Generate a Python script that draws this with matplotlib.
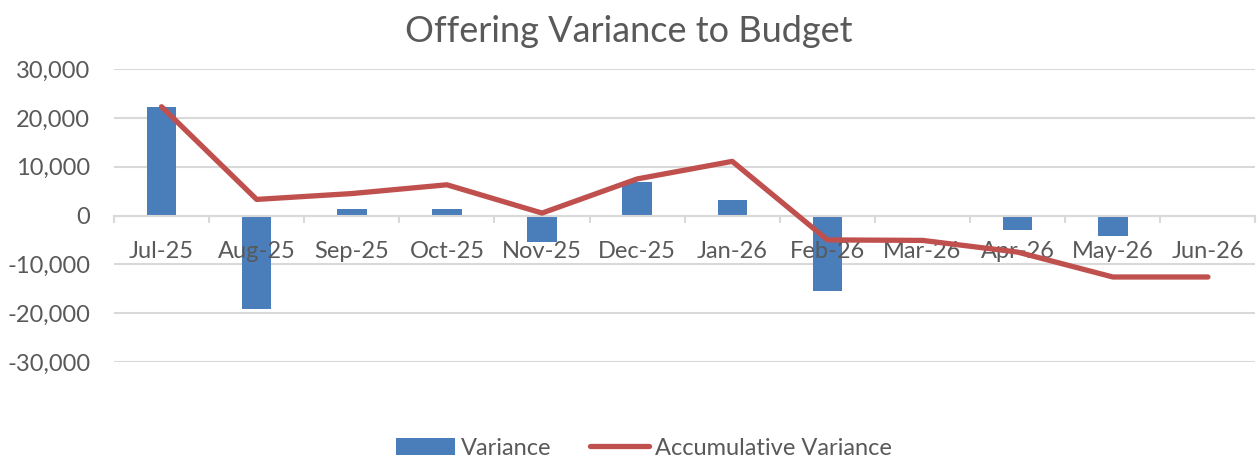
import numpy as np
import matplotlib.pyplot as plt
from matplotlib.ticker import FuncFormatter

months = ["Jul-25", "Aug-25", "Sep-25", "Oct-25", "Nov-25", "Dec-25",
          "Jan-26", "Feb-26", "Mar-26", "Apr-26", "May-26", "Jun-26"]
variance = [22200, -19200, 1400, 1400, -5500, 6900, 3200, -15500, -100, -2950, -4100, 0]
accum_variance = [22300, 3300, 4500, 6300, 500, 7500, 11100, -5000, -5100, -7500, -12600, -12600]

bar_color = "#4A7EBB"
line_color = "#C0504D"
text_color = "#595959"
grid_color = "#D9D9D9"

plt.rcParams['font.family'] = ['Lato', 'DejaVu Sans']

fig = plt.figure(figsize=(12.58, 4.61), dpi=100)
ax = fig.add_axes([0.0906, 0.215, 0.9074, 0.635])

x = np.arange(len(months))
yticks = np.arange(-30000, 30001, 10000)
for yv in yticks:
    ax.axhline(yv, color=grid_color, lw=1.5, zorder=0.5)

bars = ax.bar(x, variance, width=0.31, color=bar_color, zorder=1, label="Variance")
line, = ax.plot(x, accum_variance, color=line_color, lw=3.8, solid_capstyle='round',
                zorder=3, label="Accumulative Variance")

ax.set_xlim(-0.5, len(months) - 0.5)
ax.set_ylim(-30000, 30000)

for s in ['top', 'right', 'left']:
    ax.spines[s].set_visible(False)
ax.spines['bottom'].set_position(('data', 0))
ax.spines['bottom'].set_color(grid_color)
ax.spines['bottom'].set_linewidth(1.5)

ax.set_xticks(np.arange(-0.5, len(months)), minor=False)
ax.set_xticklabels([])
ax.set_xticks(x, minor=True)
ax.set_xticklabels(months, minor=True)
ax.tick_params(axis='x', which='major', length=5, width=1.5, color=grid_color, direction='out')
ax.tick_params(axis='x', which='minor', length=0, pad=18, labelsize=17, labelcolor=text_color)

ax.set_yticks(yticks)
ax.yaxis.set_major_formatter(FuncFormatter(lambda v, p: f"{int(v):,}"))
ax.tick_params(axis='y', length=0, pad=17, labelsize=17, labelcolor=text_color)

fig.suptitle("Offering Variance to Budget", y=0.968, fontsize=26, color=text_color)

leg = fig.legend([bars, line], ["Variance", "Accumulative Variance"],
                 loc='center', bbox_to_anchor=(0.512, 0.028), ncol=2, frameon=False,
                 fontsize=17, handlelength=2.5, handletextpad=0.25, columnspacing=1.65)
for t in leg.get_texts():
    t.set_color(text_color)

fig.savefig("out.png", dpi=100)
